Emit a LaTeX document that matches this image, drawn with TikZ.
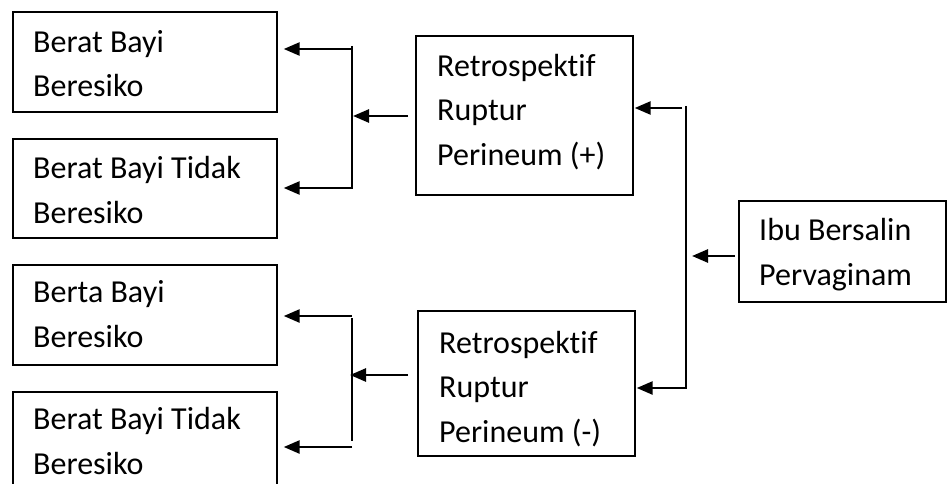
\documentclass[tikz,border=0pt]{standalone}
\usepackage{fontspec}
\setmainfont{Carlito}[Ligatures=NoCommon]
\usetikzlibrary{arrows.meta,calc}
\begin{document}
\begin{tikzpicture}[x=1pt,y=-1pt,
  box/.style={draw,line width=1.7pt,inner sep=0pt,anchor=north west},
  lbl/.style={anchor=base west,align=left,inner sep=0pt,
    font=\fontsize{32}{44.5}\selectfont},
  arr/.style={line width=2.6pt,-{Triangle[length=16pt,width=13pt]}},
  bar/.style={line width=1.6pt}]
\useasboundingbox (0,0) rectangle (947,484);
\clip (0,0) rectangle (947,484);

% outcome boxes on the left (labels anchored at the last baseline)
\node[box,minimum width=264pt,minimum height=100pt] (b1) at (12,11) {};
\node[box,minimum width=264pt,minimum height=99pt]  (b2) at (12,138) {};
\node[box,minimum width=264pt,minimum height=100pt] (b3) at (12,264) {};
\node[box,minimum width=264pt,minimum height=110pt] (b4) at (12,391) {};
\node[lbl] (t1) at (33,97)  {Berat Bayi\\Beresiko};
\node[lbl] (t2) at (33,223) {Berat Bayi Tidak\\Beresiko};
\node[lbl] (t3) at (33,347) {Berta Bayi\\Beresiko};
\node[lbl] (t4) at (33,474) {Berat Bayi Tidak\\Beresiko};

% rupture groups
\node[box,minimum width=217pt,minimum height=159pt] (r1) at (415,35) {};
\node[box,minimum width=217pt,minimum height=145pt] (r2) at (417,310) {};
\node[lbl] (s1) at (437,165) {Retrospektif\\Ruptur\\Perineum (+)};
\node[lbl] (s2) at (439,442) {Retrospektif\\Ruptur\\Perineum (-)};

% source
\node[box,minimum width=207pt,minimum height=101pt] (ibu) at (738,200) {};
\node[lbl] (u) at (759,285) {Ibu Bersalin\\Pervaginam};

% junction points of the brackets
\coordinate (ja) at (352,49);
\coordinate (jb) at (352,188);
\coordinate (jc) at (352,316);
\coordinate (jd) at (352,447);
\coordinate (je) at (686,108);
\coordinate (jf) at (686,388);

% brackets
\draw[bar] (352,46) -- (352,189);
\draw[bar] (352,318) -- (352,441);
\draw[bar] (686,106) -- (686,389);

% arrows into the left boxes
\draw[arr] (ja) -- ([xshift=6pt]b1.east |- ja);
\draw[arr] (jb) -- ([xshift=6pt]b2.east |- jb);
\draw[arr] (jc) -- ([xshift=6pt]b3.east |- jc);
\draw[arr] (jd) -- ([xshift=6pt]b4.east |- jd);
\draw[arr] ([xshift=-7pt]r1.west |- 0,116) -- (353,116);
\draw[arr] ([xshift=-9pt]r2.west |- 0,375) -- (350,375);

% arrows into the rupture boxes
\draw[arr] ([xshift=-4pt]je) -- ([xshift=1pt]r1.east |- je);
\draw[arr] (jf) -- ([xshift=1pt]r2.east |- jf);
\draw[arr] ([xshift=-3pt]ibu.west |- 0,256) -- (692,256);
\end{tikzpicture}
\end{document}
